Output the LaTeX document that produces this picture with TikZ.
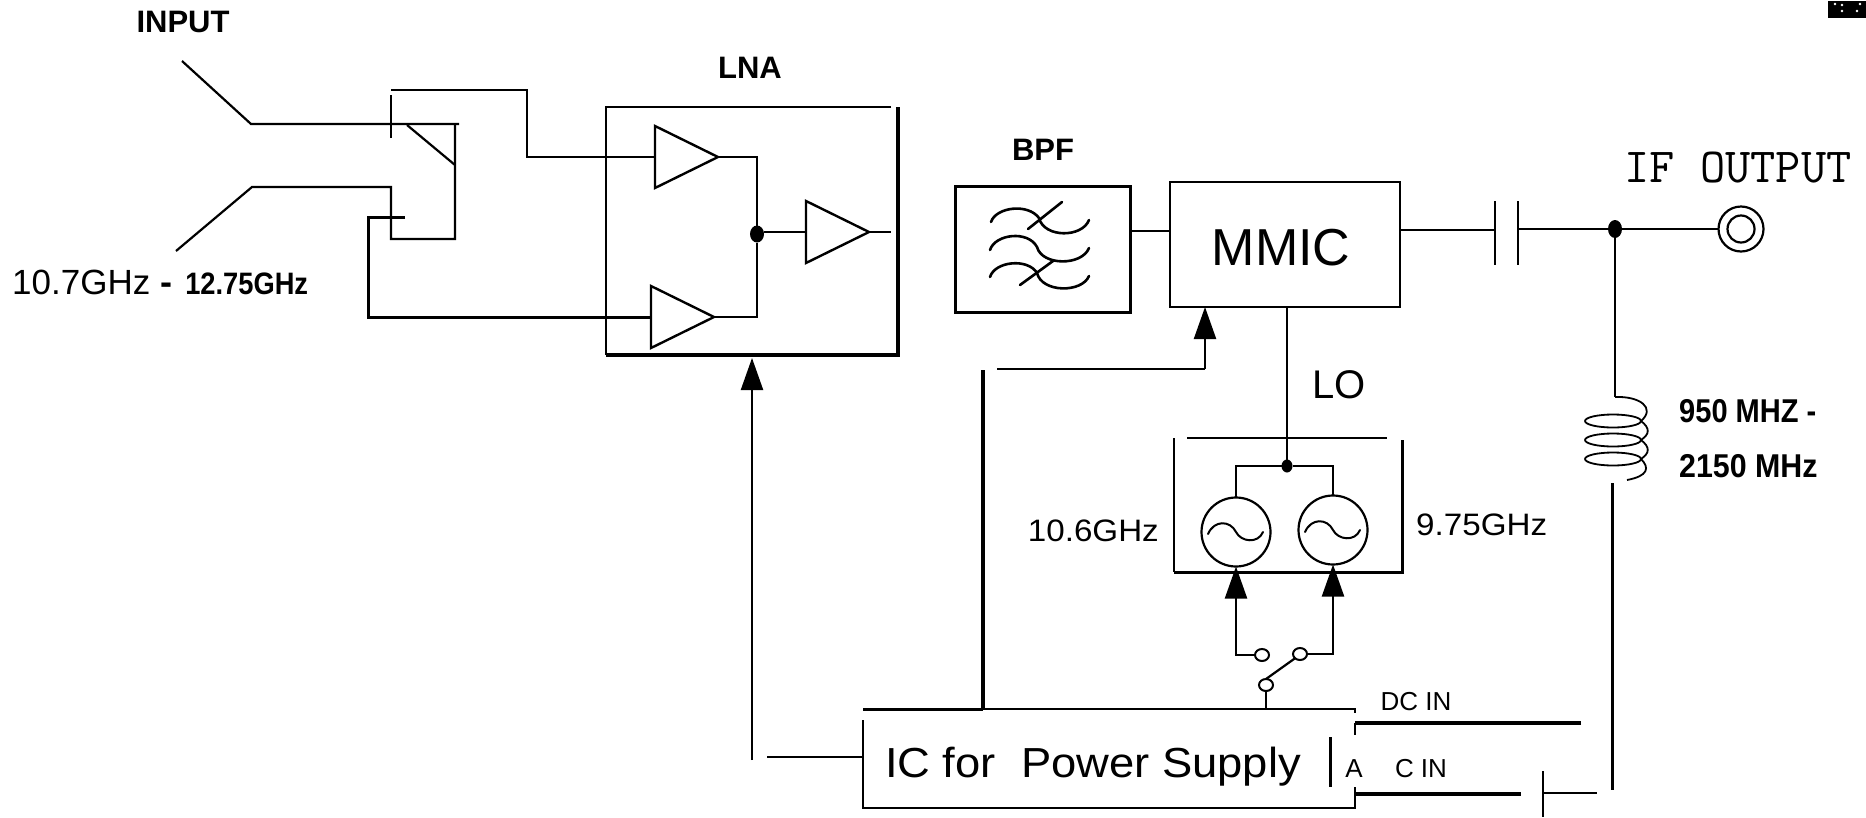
\documentclass[tikz,border=0pt]{standalone}
\usepackage{fontspec}
\setmainfont{Liberation Sans}
\usepackage{tikz}
\usetikzlibrary{arrows.meta,shapes.geometric,calc}
\newcommand{\Nar}[1]{\scalebox{0.88}[1]{#1}}
\newcommand{\Wid}[1]{\scalebox{1.07}[1]{#1}}
\newcommand{\fs}[1]{\fontsize{#1}{#1}\selectfont}

\begin{document}
\begin{tikzpicture}[
  x=1pt, y=-1pt,
  wire/.style={line width=2.2pt,black},
  heavy/.style={line width=3.8pt,black},
  box/.style={draw, rectangle, line width=2.4pt, inner sep=0pt, outer sep=0pt},
  frame/.style={rectangle, inner sep=0pt, outer sep=0pt},
  amp/.style={
    isosceles triangle, isosceles triangle apex angle=54,
    isosceles triangle stretches, shape border rotate=0,
    draw, line width=2.4pt, inner sep=0pt, outer sep=0pt,
    minimum width=62pt, minimum height=63pt, anchor=lower side
  },
  osc/.style={draw, circle, line width=2.2pt, minimum size=69pt, inner sep=0pt, outer sep=0pt},
  contact/.style={draw, ellipse, line width=2pt, minimum width=14pt, minimum height=12pt, inner sep=0pt, outer sep=0pt},
  dot/.style={fill=black, ellipse, inner sep=0pt, outer sep=0pt},
  arr/.style={-{Triangle[length=32pt,width=22pt]},wire},
  lbl/.style={inner sep=0pt, font=\bfseries\fs{31}},
  txt/.style={inner sep=0pt, font=\fs{31}}
]
\useasboundingbox (0,0) rectangle (1866,817);

\fill (1828,1) rectangle (1866,18);
\foreach \xpos/\ypos in {1835/4,1842/5,1860/4,1842/11,1857/11}
  \fill[white] (\xpos,\ypos) circle (1.4pt);

\node[lbl] (inputLbl) at (183,22) {INPUT};
\node[inner sep=0pt,anchor=west] (bandLbl) at (12,282)
  {{\fs{35}10.7GHz}\hspace{10pt}{\bfseries\fs{36}-}\hspace{13pt}{\bfseries\fs{31}\Nar{12.75GHz}}};
\node[lbl] (lnaLbl) at (750,68) {LNA};
\node[lbl] (bpfLbl) at (1043,150) {BPF};

\node[frame, minimum width=292pt, minimum height=248pt] (lna) at (752,231) {};
\node[box, line width=3pt, minimum width=175pt, minimum height=126pt] (bpf) at (1042.5,249) {};
\node[box, minimum width=230pt, minimum height=125pt] (mmic) at (1285,244.5) {};
\node[inner sep=0pt, font=\fs{52}] (mmicLbl) at (1281,248) {MMIC};
\node[frame, minimum width=228pt, minimum height=134pt] (lo) at (1288,505) {};
\node[frame, minimum width=492pt, minimum height=99pt] (ic) at (1109,758.5) {};

\node[amp] (ampA) at (655,157) {};
\node[amp] (ampB) at (651,317) {};
\node[amp] (ampC) at (806,232) {};
\node[dot, minimum width=14pt, minimum height=17pt] (lnaDot) at (757,234) {};
\coordinate (ampOut) at (891,232);

\coordinate (hornA) at (182,61);
\coordinate (hornB) at (251,124);
\coordinate (hornC) at (176,251);
\coordinate (hornD) at (252,187);
\coordinate (probeTop) at (391,90);
\coordinate (probeEnd) at (391,138);
\coordinate (slotA) at (459,124);
\coordinate (slotB) at (455,239);
\coordinate (slotC) at (391,187);
\coordinate (slotD) at (391,239);
\coordinate (slotE) at (407,125);
\coordinate (slotF) at (455,165);
\coordinate (probeLow) at (405,217);
\coordinate (probeBend) at (368,217);
\coordinate (lowBend) at (368,317);
\coordinate (topBend) at (527,90);

\draw[wire] (hornA) -- (hornB) -- (slotA);
\draw[wire] (hornC) -- (hornD) -- (slotC) -- (slotD) -- (slotB) -- (slotB |- slotA);
\draw[wire] (slotE) -- (slotF);
\draw[wire] (probeEnd) -- ([yshift=-5pt]probeTop);
\draw[wire] (probeTop) -- (topBend) |- (ampA.lower side);
\draw[wire,line width=3pt] (probeLow) -- (probeBend) -- (lowBend) -- (ampB.lower side);

\draw[wire] (ampA.apex) -| (lnaDot.north);
\draw[wire] (ampB.apex) -| (lnaDot.south);
\draw[wire] (lnaDot.east |- ampC.lower side) -- (ampC.lower side);
\draw[wire] (ampC.apex) -- (ampOut);

\draw[wire] ([xshift=-7pt]lna.north east) -- (lna.north west) -- (lna.south west);
\draw[heavy] (lna.north east) -- (lna.south east) -- (lna.south west);

\draw[line width=2.6pt,line cap=round]
  (991,222) .. controls (996,207) and (1028,203) .. (1039,218)
  .. controls (1044,238) and (1082,238) .. (1089,220);
\draw[line width=2.6pt,line cap=round]
  (990,250) .. controls (995,234) and (1028,230) .. (1037,247)
  .. controls (1042,266) and (1082,266) .. (1089,248);
\draw[line width=2.6pt,line cap=round]
  (990,277) .. controls (995,261) and (1028,258) .. (1037,273)
  .. controls (1042,293) and (1082,293) .. (1089,276);
\draw[line width=2.6pt,line cap=round] (1028,229) -- (1062,202);
\draw[line width=2.6pt,line cap=round] (1020,285) -- (1053,261);

\draw[wire] (bpf.east |- 0,231) -- (mmic.west |- 0,231);

\coordinate (capA) at (1495,230);
\coordinate (capB) at (1518,229);
\draw[wire] (mmic.east |- capA) -- (capA);
\draw[wire,line width=2.6pt] (1495,201) -- (1495,265);
\draw[wire,line width=2.6pt] (1518,201) -- (1518,265);
\node[dot, minimum width=14pt, minimum height=18pt] (ifDot) at (1615,229) {};
\node[draw, circle, line width=2.2pt, minimum size=45pt, inner sep=0pt, outer sep=0pt] (ifOut) at (1741,229) {};
\node[draw, circle, line width=2.2pt, minimum size=27pt, inner sep=0pt, outer sep=0pt] (ifIn) at (1741,229) {};
\draw[wire] (capB) -- (ifDot) -- (ifOut);
\node[inner sep=0pt, font=\ttfamily\fs{49}] (ifLbl) at (1738,168) {IF OUTPUT};

\coordinate (coilTop) at (1615,397);
\draw[wire] (ifDot) -- (coilTop);
\draw[wire,line width=1.8pt]
  (coilTop) .. controls (1640,396) and (1656,408) .. (1641,421)
  .. controls (1650,428) and (1650,434) .. (1641,440)
  .. controls (1650,447) and (1650,453) .. (1641,459)
  .. controls (1650,468) and (1648,476) .. (1627,480);
\foreach \ypos in {421,440,459}
  \draw[wire,line width=1.8pt] (1613,\ypos) ellipse (28pt and 6.5pt);
\node[lbl,anchor=west,font=\bfseries\fs{33}] (coilLblA) at (1679,411) {\Nar{950 MHZ -}};
\node[lbl,anchor=west,font=\bfseries\fs{33}] (coilLblB) at (1679,466) {\scalebox{0.92}[1]{2150 MHz}};

\node[inner sep=0pt, font=\fs{40}] (loLbl) at (1339,385) {LO};
\draw[wire] ([xshift=13pt]lo.north west) -- ([xshift=-15pt]lo.north east);
\draw[wire] (lo.north west) -- (lo.south west);
\draw[heavy,line width=3pt] ([yshift=-2pt]lo.north east) -- (lo.south east) -- (lo.south west);

\node[osc] (oscA) at (1236,532) {};
\node[osc] (oscB) at (1333,530) {};
\node[dot, minimum width=11pt, minimum height=13pt] (loDot) at (1287,466) {};
\draw[wire] (mmic.south -| loDot) -- (loDot);
\draw[wire] (oscA.north) |- (loDot);
\draw[wire] (oscB.north) |- (loDot);
\foreach \o in {oscA,oscB}
  \draw[line width=2pt,line cap=round]
    ([shift={(-28,2)}]\o.center) .. controls ([shift={(-22,-12)}]\o.center) and ([shift={(-6,-12)}]\o.center) .. (\o.center)
    .. controls ([shift={(5,10)}]\o.center) and ([shift={(22,12)}]\o.center) .. ([shift={(27,0)}]\o.center);

\node[txt,anchor=east] (oscLblA) at (1159,531) {\Wid{10.6GHz}};
\node[txt,anchor=west] (oscLblB) at (1416,525) {\Wid{9.75GHz}};

\node[contact] (swA) at (1262,655) {};
\node[contact] (swB) at (1300,654) {};
\node[contact] (swC) at (1266,685) {};
\draw[arr] (swA.west) -| (oscA.south);
\draw[arr] (swB.east) -| (oscB.south);
\draw[wire] (swC.north) -- (swB.south west);
\draw[wire] (swC.south) -- (ic.north -| swC);

\coordinate (lnaFeed) at (752,760);
\coordinate (lnaStub) at (767,757);
\draw[arr] (lnaFeed) -- ([yshift=-3pt]lna.south -| lnaFeed);
\draw[wire] (lnaStub) -- (ic.west |- lnaStub);

\coordinate (feedTop) at (983,370);
\coordinate (mmicStart) at (997,369);
\coordinate (mmicBend) at (1205,369);
\draw[heavy] (feedTop) -- (ic.north -| feedTop);
\draw[wire,line width=2.8pt] (mmicStart) -- (mmicBend);
\draw[arr] (mmicBend) -- (mmic.south -| mmicBend);

\draw[wire,line width=3pt] (ic.north west) -- (ic.north -| feedTop);
\draw[wire] (ic.north -| feedTop) -- (ic.north east) -- ([yshift=-4pt]ic.north east);
\draw[wire] ([yshift=-11pt]ic.north west) -- (ic.south west) -- (ic.south east) -- ([yshift=21pt]ic.south east);

\node[inner sep=0pt, font=\fs{42}] (icLbl) at (1093,767) {\scalebox{1.08}[1]{IC for\ \ Power Supply}};
\draw[wire,line width=3pt] (1330,737) -- (1330,787);
\node[inner sep=0pt, font=\fs{26}] (acA) at (1354,769) {A};
\node[inner sep=0pt, font=\fs{26}] (acLbl) at (1421,769) {C IN};
\node[inner sep=0pt, font=\fs{26}] (dcLbl) at (1416,702) {DC IN};

\coordinate (dcEnd) at (1581,723);
\coordinate (dcStart) at (1355,723);
\draw[heavy] (dcEnd) -- (dcStart);
\draw[wire] (dcStart) -- (1355,735);
\coordinate (acEnd) at (1521,794);
\draw[heavy] (ic.east |- acEnd) -- (acEnd);
\coordinate (plate) at (1543,793);
\draw[wire] (1543,771) -- (1543,817);
\draw[wire] (plate) -- (1597,793);
\draw[heavy,line width=3pt] (1612,483) -- (1612,790);

\end{tikzpicture}
\end{document}
